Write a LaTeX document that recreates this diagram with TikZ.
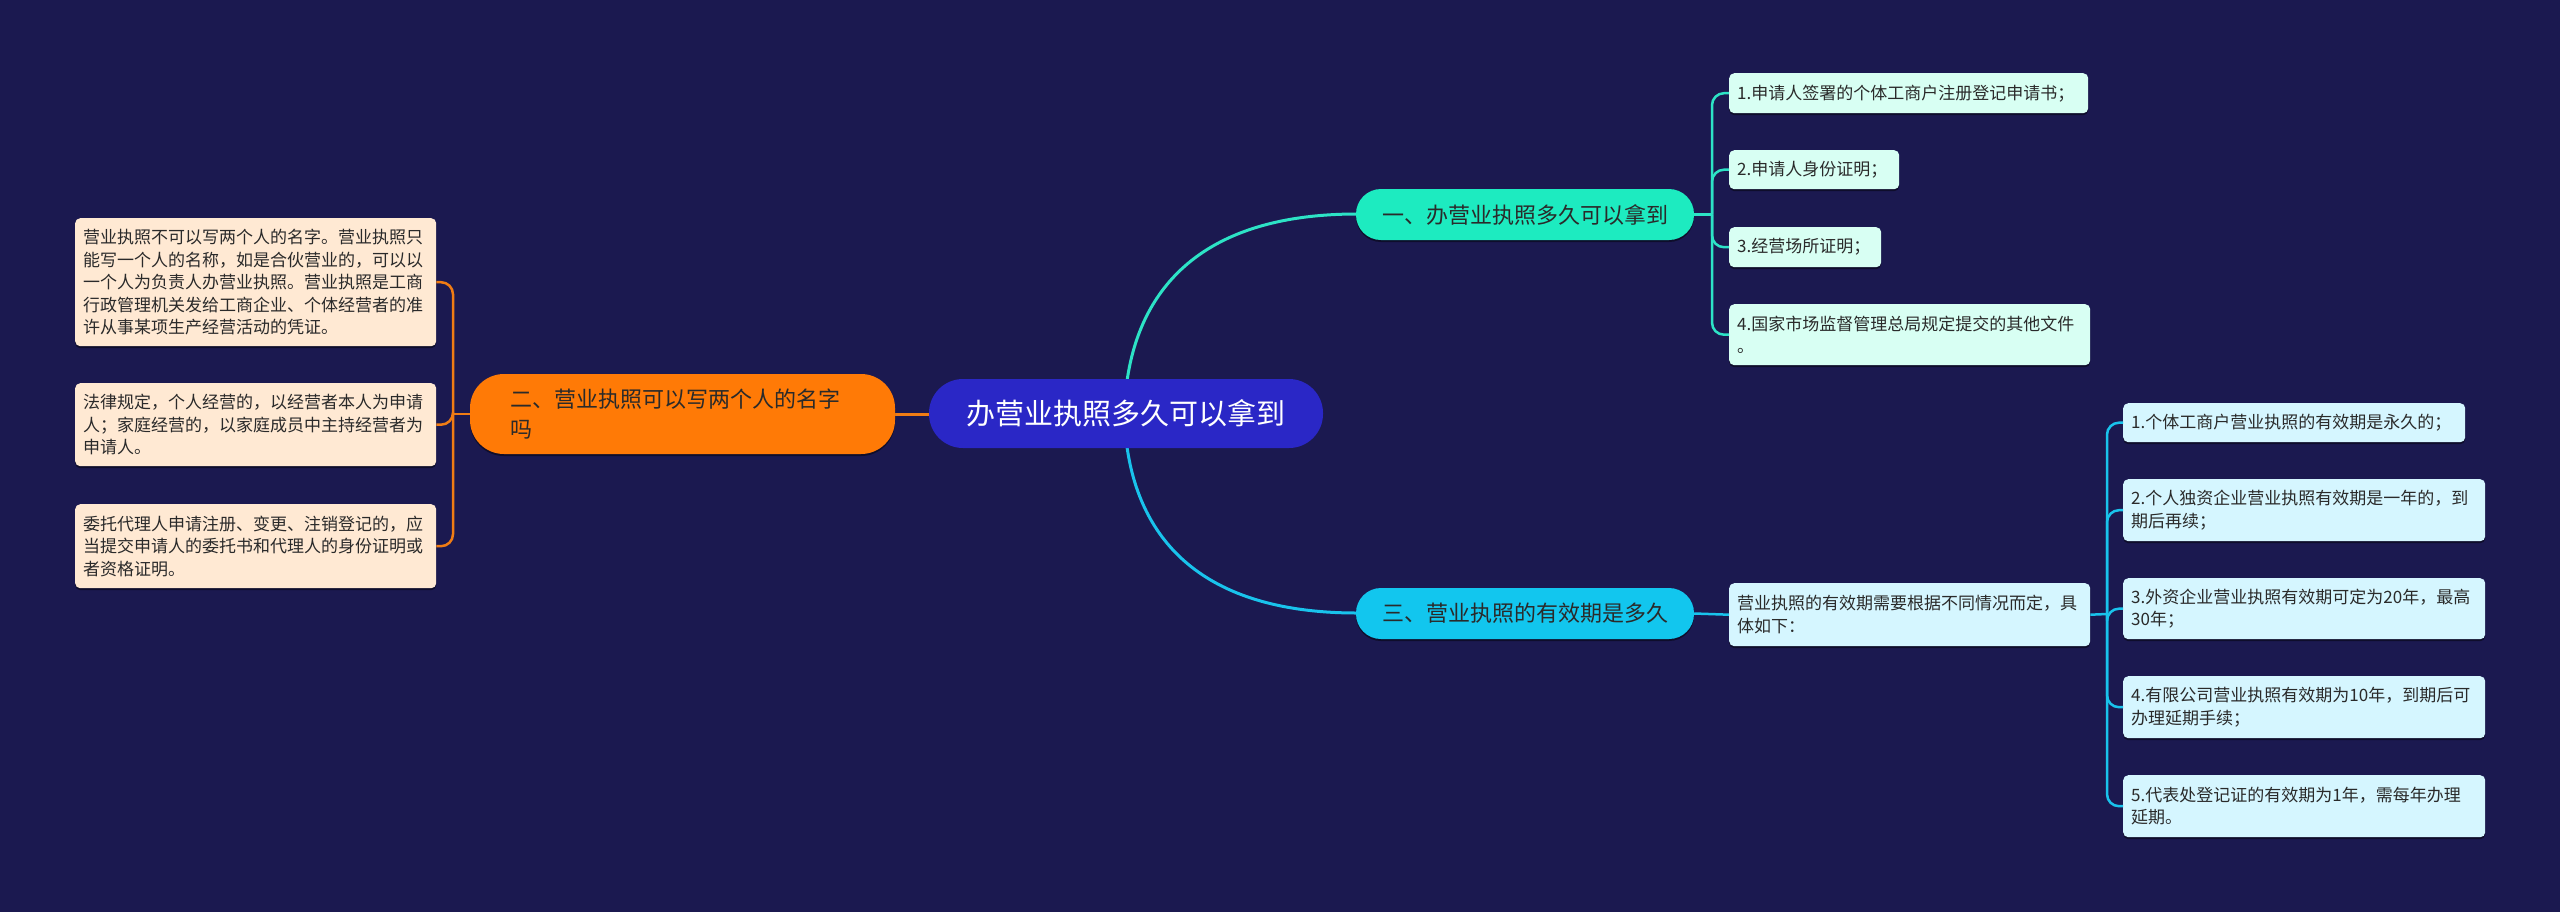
\documentclass[tikz,border=0pt]{standalone}
\usepackage{fontspec}
\setmainfont{Noto Sans CJK SC}
\usetikzlibrary{shadows,calc}
\definecolor{bg}{HTML}{1B1950}
\definecolor{rootc}{HTML}{2A27C6}
\definecolor{orangec}{HTML}{FF7A06}
\definecolor{tealc}{HTML}{1DEBC0}
\definecolor{cyanc}{HTML}{12C6EE}
\definecolor{peach}{HTML}{FFE9D3}
\definecolor{mint}{HTML}{D8FFF3}
\definecolor{icy}{HTML}{D5F6FF}
\definecolor{txt}{HTML}{2A2A2A}
\definecolor{orangeline}{HTML}{F07C14}
\definecolor{tealline}{HTML}{2DE3C6}
\definecolor{cyanline}{HTML}{19C3EC}
\tikzset{
  leaf/.style={anchor=north west, rounded corners=5pt, inner sep=0pt, align=left,
    font=\fontsize{17}{22.5}\selectfont, text=txt,
    drop shadow={shadow xshift=0pt,shadow yshift=-2pt,opacity=0.45,fill=black}},
  branch/.style={inner sep=0pt, rounded corners=25pt, minimum width=338pt, minimum height=51pt,
    font=\fontsize{22}{30}\selectfont, text=txt,
    drop shadow={shadow xshift=0pt,shadow yshift=-2pt,opacity=0.45,fill=black}},
  conn/.style={line width=2.5pt, rounded corners=12pt},
}
\begin{document}
\begin{tikzpicture}[x=1pt,y=-1pt]
\useasboundingbox (0,0) rectangle (2560,911);
\fill[bg] (-10,-10) rectangle (2570,921);

% ---- connectors (drawn first) ----
\coordinate (rootTop) at (1127,381);
\coordinate (rootBot) at (1127,447);
\draw[tealline, line width=3pt] (rootTop) .. controls (1140,290) and (1200,214) .. (1357,214);
\draw[cyanline, line width=3pt] (rootBot) .. controls (1140,538) and (1200,613) .. (1357,613);
\draw[orangeline, line width=3pt] (931,414) -- (894,414);

% ---- root ----
\node[fill=rootc, text=white, rounded corners=34pt, minimum width=394pt, minimum height=69pt,
  inner sep=0pt, font=\fontsize{29}{34}\selectfont] (root) at (1126,413.5) {办营业执照多久可以拿到};

% ---- branch 1 ----
\node[branch, fill=tealc] (b1) at (1525,214.5) {一、办营业执照多久可以拿到};
\node[leaf, fill=mint, minimum width=359pt, minimum height=40pt, text width=343pt] (a1) at (1729,73) {1.申请人签署的个体工商户注册登记申请书；};
\node[leaf, fill=mint, minimum width=170pt, minimum height=39pt, text width=154pt] (a2) at (1729,150) {2.申请人身份证明；};
\node[leaf, fill=mint, minimum width=152pt, minimum height=40pt, text width=136pt] (a3) at (1729,227) {3.经营场所证明；};
\node[leaf, fill=mint, minimum width=361pt, minimum height=61pt, text width=345pt] (a4) at (1729,304) {4.国家市场监督管理总局规定提交的其他文件\\。};

% ---- branch 2 ----
\node[branch, fill=orangec, minimum width=425pt, minimum height=80pt, rounded corners=34pt,
  text width=345pt, align=left] (b2) at (682.5,414) {二、营业执照可以写两个人的名字\\吗};
\node[leaf, fill=peach, minimum width=361pt, minimum height=128pt, text width=345pt] (l1) at (75,218) {营业执照不可以写两个人的名字。营业执照只\\能写一个人的名称，如是合伙营业的，可以以\\一个人为负责人办营业执照。营业执照是工商\\行政管理机关发给工商企业、个体经营者的准\\许从事某项生产经营活动的凭证。};
\node[leaf, fill=peach, minimum width=361pt, minimum height=83pt, text width=345pt] (l2) at (75,383) {法律规定，个人经营的，以经营者本人为申请\\人；家庭经营的，以家庭成员中主持经营者为\\申请人。};
\node[leaf, fill=peach, minimum width=361pt, minimum height=84pt, text width=345pt] (l3) at (75,504) {委托代理人申请注册、变更、注销登记的，应\\当提交申请人的委托书和代理人的身份证明或\\者资格证明。};

% ---- branch 3 ----
\node[branch, fill=cyanc] (b3) at (1525,613.5) {三、营业执照的有效期是多久};
\node[leaf, fill=icy, minimum width=361pt, minimum height=63pt, text width=345pt] (m) at (1729,583) {营业执照的有效期需要根据不同情况而定，具\\体如下：};
\node[leaf, fill=icy, minimum width=342pt, minimum height=39pt, text width=326pt] (c1) at (2123,403) {1.个体工商户营业执照的有效期是永久的；};
\node[leaf, fill=icy, minimum width=362pt, minimum height=62pt, text width=346pt] (c2) at (2123,479) {2.个人独资企业营业执照有效期是一年的，到\\期后再续；};
\node[leaf, fill=icy, minimum width=362pt, minimum height=61pt, text width=346pt] (c3) at (2123,578) {3.外资企业营业执照有效期可定为20年，最高\\30年；};
\node[leaf, fill=icy, minimum width=362pt, minimum height=62pt, text width=346pt] (c4) at (2123,676) {4.有限公司营业执照有效期为10年，到期后可\\办理延期手续；};
\node[leaf, fill=icy, minimum width=362pt, minimum height=62pt, text width=346pt] (c5) at (2123,775) {5.代表处登记证的有效期为1年，需每年办理\\延期。};

% ---- trunks ----
\coordinate (t1) at (1712,214.5);
\coordinate (t2) at (453,414);
\coordinate (t3) at (2107,614);

\draw[tealline, line width=2.5pt] (b1.east) -- (t1);
\foreach \n in {a1,a2,a3,a4}
  \draw[tealline, conn] (t1) -- (t1 |- \n.west) -- (\n.west);

\draw[orangeline, line width=2.5pt] (b2.west) -- (t2);
\foreach \n in {l1,l2,l3}
  \draw[orangeline, conn] (t2) -- (t2 |- \n.east) -- (\n.east);

\draw[cyanline, line width=2.5pt] (b3.east) -- (m.west);
\draw[cyanline, line width=2.5pt] (m.east) -- (t3);
\foreach \n in {c1,c2,c3,c4,c5}
  \draw[cyanline, conn] (t3) -- (t3 |- \n.west) -- (\n.west);
\end{tikzpicture}
\end{document}
